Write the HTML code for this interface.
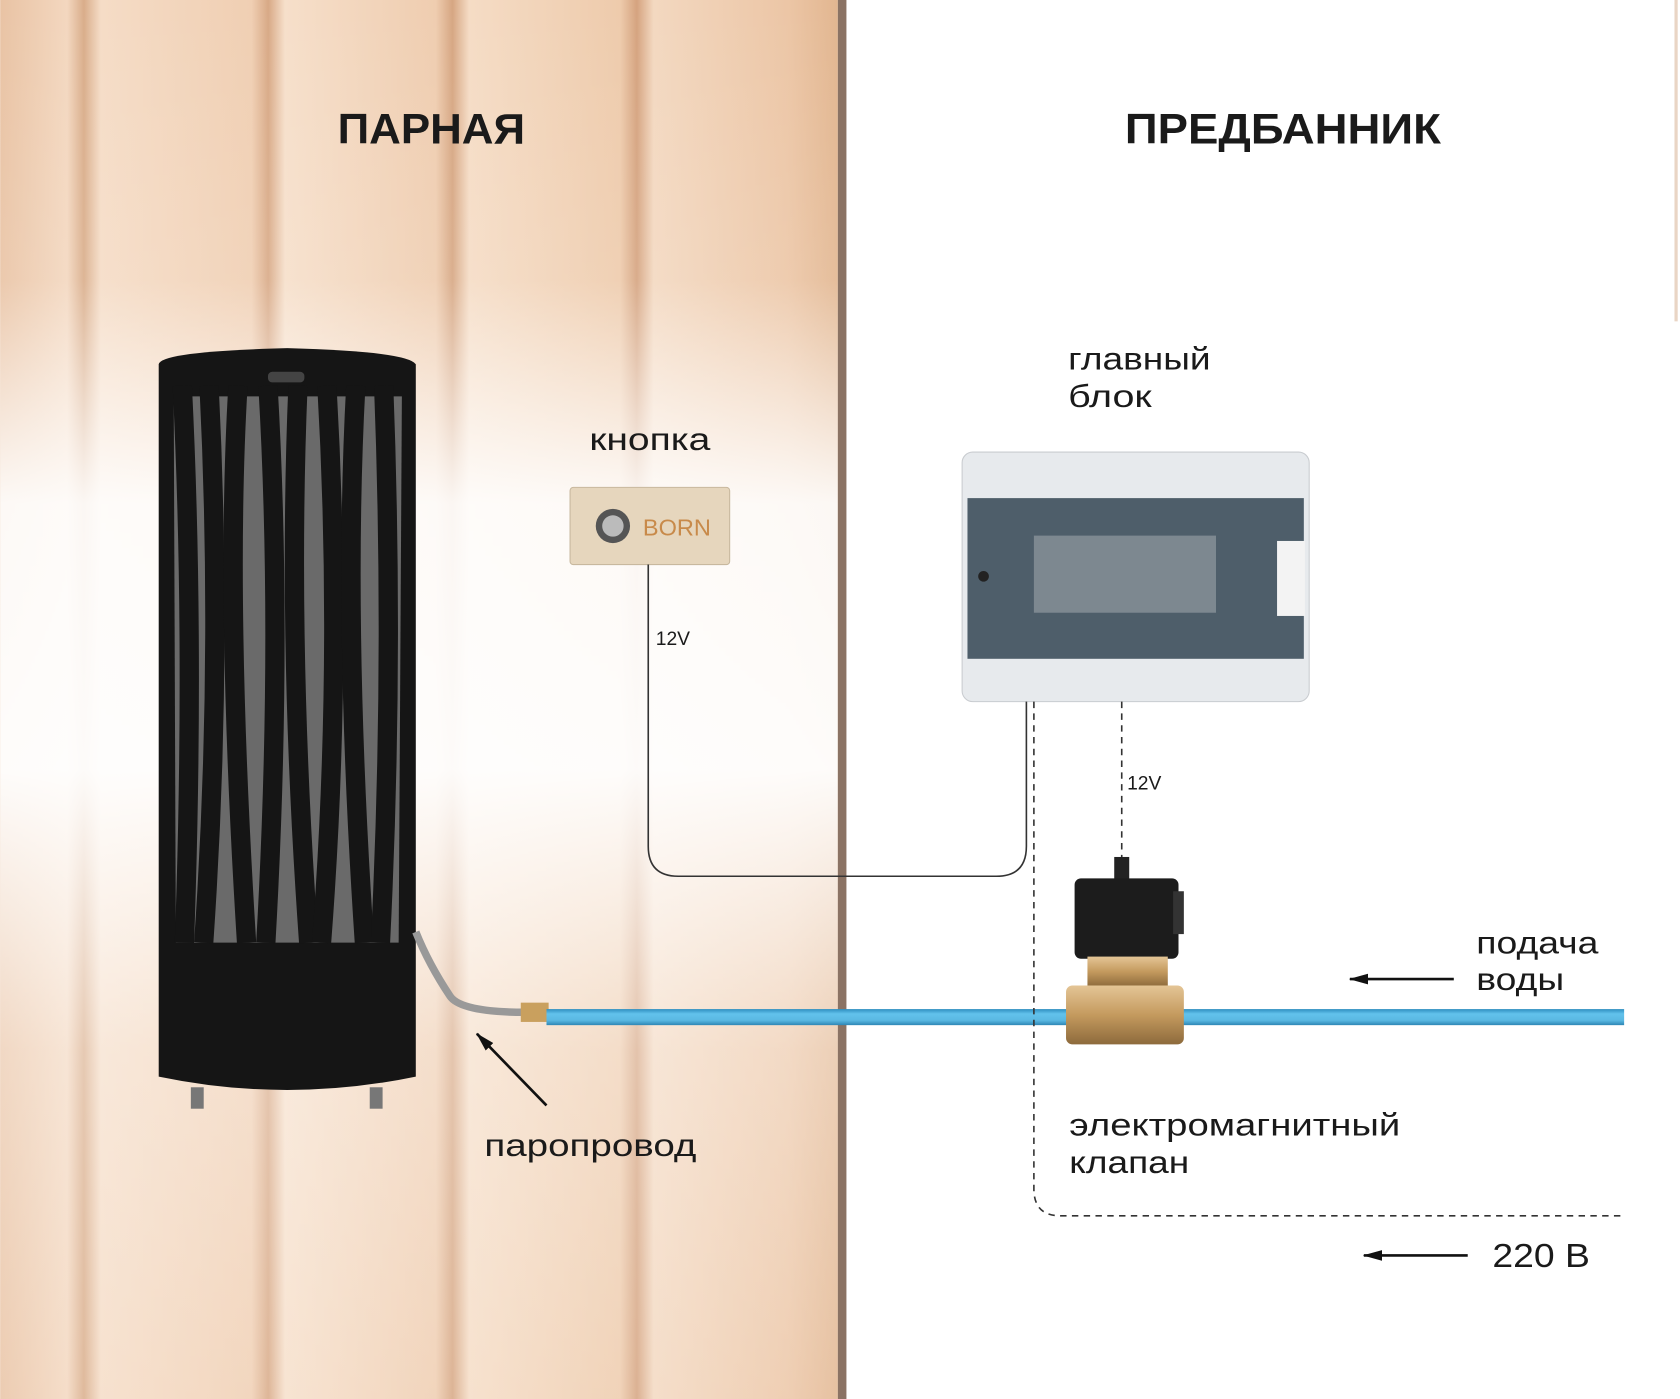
<!DOCTYPE html>
<html><head><meta charset="utf-8"><style>
html,body{margin:0;padding:0;background:#fff;width:1680px;height:1399px;overflow:hidden}
svg{display:block}
text{font-family:"Liberation Sans",sans-serif;fill:#1a1a1a}
</style></head><body>
<svg width="1680" height="1399" viewBox="0 0 1568 1306" xmlns="http://www.w3.org/2000/svg">
<defs>
<linearGradient id="wood" x1="0" y1="0" x2="1" y2="0">
<stop offset="0" stop-color="#e9c3a4"/><stop offset="0.08" stop-color="#f3d7bf"/><stop offset="0.1" stop-color="#d9ad8a"/><stop offset="0.12" stop-color="#f5dcc6"/>
<stop offset="0.3" stop-color="#f0cfb3"/><stop offset="0.32" stop-color="#d8a986"/><stop offset="0.34" stop-color="#f6dfca"/>
<stop offset="0.52" stop-color="#efcdb0"/><stop offset="0.54" stop-color="#d6a682"/><stop offset="0.56" stop-color="#f5dcc5"/>
<stop offset="0.74" stop-color="#eecbac"/><stop offset="0.76" stop-color="#d5a37f"/><stop offset="0.78" stop-color="#f3d8c0"/>
<stop offset="0.94" stop-color="#ecc6a6"/><stop offset="1" stop-color="#e2b690"/>
</linearGradient>
<linearGradient id="fade" x1="0" y1="0" x2="0" y2="1">
<stop offset="0" stop-color="#fff" stop-opacity="0"/><stop offset="0.2" stop-color="#fff" stop-opacity="0.1"/>
<stop offset="0.36" stop-color="#fff" stop-opacity="0.9"/><stop offset="0.55" stop-color="#fff" stop-opacity="0.95"/>
<stop offset="0.75" stop-color="#fff" stop-opacity="0.35"/><stop offset="1" stop-color="#fff" stop-opacity="0.15"/>
</linearGradient>
<linearGradient id="pipe" x1="0" y1="0" x2="0" y2="1">
<stop offset="0" stop-color="#2f8fc0"/><stop offset="0.3" stop-color="#62c2ec"/><stop offset="0.7" stop-color="#5ab8e2"/><stop offset="1" stop-color="#2e86b5"/>
</linearGradient>
<linearGradient id="brass" x1="0" y1="0" x2="0" y2="1">
<stop offset="0" stop-color="#e4c596"/><stop offset="0.5" stop-color="#c49a5e"/><stop offset="1" stop-color="#8d6a3c"/>
</linearGradient>
<marker id="ah" markerWidth="18" markerHeight="10" refX="17" refY="5" orient="auto" markerUnits="userSpaceOnUse"><path d="M0,0 L18,5 L0,10 z" fill="#111"/></marker>
</defs>
<rect x="0" y="0" width="782" height="1306" fill="url(#wood)"/>
<rect x="0" y="0" width="782" height="1306" fill="url(#fade)"/>
<rect x="782" y="0" width="8" height="1306" fill="#8b7364"/>
<rect x="1563" y="0" width="3" height="300" fill="#e9d5c5"/>

<text x="315" y="134" font-size="40" font-weight="bold" textLength="175" lengthAdjust="spacingAndGlyphs">ПАРНАЯ</text>
<text x="1050" y="134" font-size="40" font-weight="bold" textLength="295" lengthAdjust="spacingAndGlyphs">ПРЕДБАННИК</text>

<path d="M148,340 Q150,328 268,325 Q380,328 388,340 L388,1005 Q268,1030 148,1005 Z" fill="#151515"/>
<path d="M162,370 L375,370 L372,880 L164,880 Z" fill="#6a6a6a"/>
<g stroke="#151515" stroke-width="18" fill="none">
<path d="M170,360 Q182,600 172,880"/><path d="M195,360 Q208,620 190,880"/><path d="M222,360 Q210,560 230,880"/>
<path d="M250,360 Q264,600 248,880"/><path d="M278,360 Q268,600 288,880"/><path d="M305,360 Q320,620 300,880"/>
<path d="M332,360 Q320,580 340,880"/><path d="M358,360 Q368,620 355,880"/>
</g>
<rect x="250" y="347" width="34" height="10" rx="4" fill="#444"/>
<rect x="178" y="1015" width="12" height="20" fill="#777"/><rect x="345" y="1015" width="12" height="20" fill="#777"/>
<path d="M388,870 Q400,900 420,930 Q430,945 490,945" stroke="#999" stroke-width="7" fill="none"/>
<rect x="486" y="936" width="26" height="18" fill="#c9a05e"/>

<rect x="510" y="942" width="1006" height="15" fill="url(#pipe)"/>

<rect x="532" y="455" width="149" height="72" rx="3" fill="#e6d6bd" stroke="#c8b89e"/>
<circle cx="572" cy="491" r="16" fill="#555"/><circle cx="572" cy="491" r="10" fill="#bbb"/>
<text x="600" y="500" font-size="22" style="fill:#c88a4a">BORN</text>

<rect x="898" y="422" width="324" height="233" rx="10" fill="#e7eaed" stroke="#c9ccd0"/>
<rect x="903" y="465" width="314" height="150" fill="#4e5e6a"/>
<rect x="965" y="500" width="170" height="72" fill="#7d8890"/>
<rect x="1192" y="505" width="26" height="70" fill="#f3f3f3"/>
<circle cx="918" cy="538" r="5" fill="#222"/>

<path d="M605,527 L605,790 Q605,818 633,818 L930,818 Q958,818 958,790 L958,655" stroke="#333" stroke-width="1.5" fill="none"/>
<path d="M965,655 L965,1110 Q965,1135 990,1135 L1517,1135" stroke="#333" stroke-width="1.5" stroke-dasharray="6,5" fill="none"/>
<path d="M1047,655 L1047,805" stroke="#333" stroke-width="1.5" stroke-dasharray="6,5" fill="none"/>
<text x="612" y="602" font-size="18">12V</text>
<text x="1052" y="737" font-size="18">12V</text>

<rect x="1040" y="800" width="14" height="22" fill="#222"/>
<rect x="1003" y="820" width="97" height="75" rx="6" fill="#1c1c1c"/>
<rect x="1095" y="832" width="10" height="40" fill="#333"/>
<rect x="1015" y="893" width="75" height="28" fill="url(#brass)"/>
<rect x="995" y="920" width="110" height="55" rx="6" fill="url(#brass)"/>

<line x1="1357" y1="914" x2="1260" y2="914" stroke="#111" stroke-width="2.5" marker-end="url(#ah)"/>
<line x1="1370" y1="1172" x2="1273" y2="1172" stroke="#111" stroke-width="2.5" marker-end="url(#ah)"/>
<line x1="510" y1="1032" x2="445" y2="965" stroke="#111" stroke-width="2.5" marker-end="url(#ah)"/>

<g font-size="29">
<text x="550" y="420" textLength="113" lengthAdjust="spacingAndGlyphs">кнопка</text>
<text x="997" y="345" textLength="133" lengthAdjust="spacingAndGlyphs">главный</text><text x="997" y="380" textLength="78" lengthAdjust="spacingAndGlyphs">блок</text>
<text x="1378" y="890" textLength="114" lengthAdjust="spacingAndGlyphs">подача</text><text x="1378" y="924" textLength="82" lengthAdjust="spacingAndGlyphs">воды</text>
<text x="452" y="1079" textLength="198" lengthAdjust="spacingAndGlyphs">паропровод</text>
<text x="998" y="1060" textLength="309" lengthAdjust="spacingAndGlyphs">электромагнитный</text><text x="998" y="1095" textLength="112" lengthAdjust="spacingAndGlyphs">клапан</text>
<text x="1393" y="1183" font-size="31" textLength="91" lengthAdjust="spacingAndGlyphs">220 В</text>
</g>
</svg>
</body></html>
